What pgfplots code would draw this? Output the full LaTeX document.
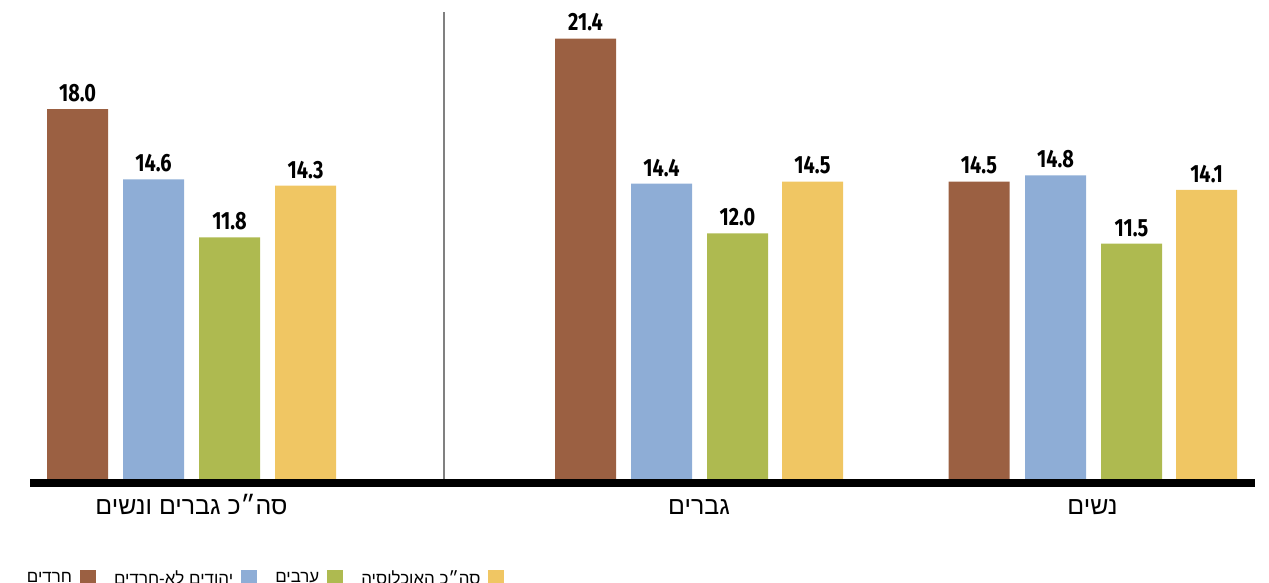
\documentclass[border=0pt]{standalone}
\usepackage{pgfplots}
\pgfplotsset{compat=1.18}
\usepackage{fontspec}
\setmainfont{Liberation Sans}
\newfontfamily\hebfont[Script=Hebrew]{Liberation Sans}
\newfontfamily\numfont[FakeStretch=0.8]{Fira Sans}
\TeXXeTstate=1
\definecolor{cBrown}{RGB}{155,96,66}
\definecolor{cBlue}{RGB}{142,173,214}
\definecolor{cGreen}{RGB}{174,186,80}
\definecolor{cYellow}{RGB}{240,198,99}
\newcommand{\heb}[1]{{\hebfont\beginR #1\endR}}
\begin{document}
\begin{tikzpicture}
\useasboundingbox (-30bp,-101bp) rectangle (1239bp,482bp);
\begin{axis}[
  at={(0,0)}, anchor=south west,
  scale only axis, width=1225bp, height=469bp,
  xmin=30, xmax=1255, ymin=0, ymax=22.635,
  clip=false,
  axis lines=left, axis line style={draw=none}, tick style={draw=none},
  ytick=\empty,
  xtick={191.5,699,1092.5},
  xticklabels={{\hebfont\beginR סה״כ גברים ונשים\endR},{\hebfont\beginR גברים\endR},{\hebfont\beginR נשים\endR}},
  xticklabel style={font=\fontsize{25}{25}\selectfont, anchor=base, yshift=-28bp},
  ybar, bar shift=0pt, bar width=61,
  nodes near coords={\pgfmathprintnumber[fixed,fixed zerofill,precision=1,assume math mode=true]{\pgfplotspointmeta}},
  every node near coord/.append style={font=\numfont\bfseries\fontsize{25}{25}\selectfont, text=black, anchor=south, inner sep=0pt, yshift=7bp},
  legend plot pos=right,
  legend columns=4,
  legend image code/.code={\fill[#1,draw=none] (0bp,-8bp) rectangle (16bp,8bp);},
  legend style={at={(rel axis cs:-0.0025,-0.205)}, anchor=west, draw=none, fill=none,
    inner sep=0pt, outer sep=0pt,
    font=\fontsize{17}{17}\selectfont,
    nodes={inner sep=0pt},
    /tikz/every odd column/.append style={column sep=8bp},
    /tikz/every even column/.append style={column sep=18bp}},
]
\addplot[fill=cBrown, draw=none] coordinates {(77.5,18.0) (585.5,21.4) (979,14.5)};
\addlegendentry{\heb{חרדים}}
\addplot[fill=cBlue, draw=none] coordinates {(153.5,14.6) (661.5,14.4) (1055.5,14.8)};
\addlegendentry{\heb{יהודים לא-חרדים}}
\addplot[fill=cGreen, draw=none] coordinates {(229.5,11.8) (737.5,12.0) (1131.5,11.5)};
\addlegendentry{\heb{ערבים}}
\addplot[fill=cYellow, draw=none] coordinates {(305.5,14.3) (812.5,14.5) (1206.5,14.1)};
\addlegendentry{\heb{סה״כ האוכלוסיה}}
\draw[color=black!50, line width=2bp] (axis cs:444,0) -- (axis cs:444,22.68);
\draw[black, line width=8bp] (axis cs:30,-0.05) -- (axis cs:1255,-0.05);
\end{axis}
\end{tikzpicture}
\end{document}
